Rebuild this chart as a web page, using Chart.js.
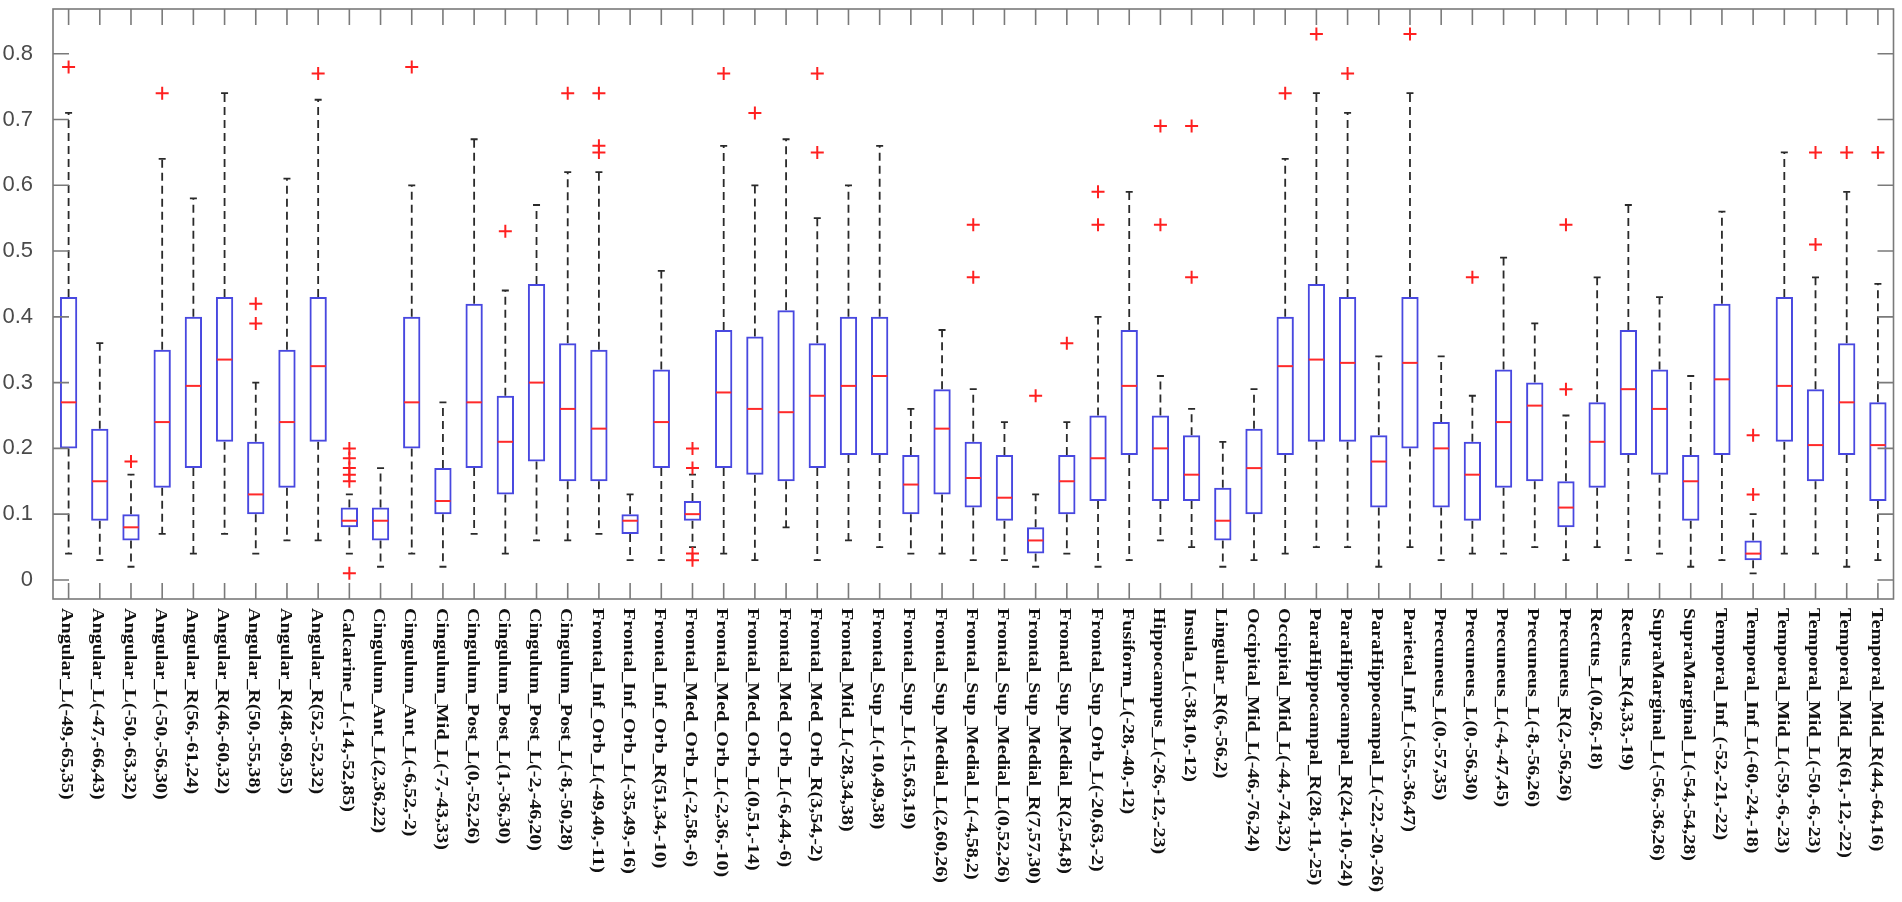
<!DOCTYPE html>
<html>
<head>
<meta charset="utf-8">
<script src="https://cdn.jsdelivr.net/npm/chart.js@4.4.1/dist/chart.umd.min.js"></script>
<style>
  html, body { margin: 0; padding: 0; background: #ffffff; }
  #wrap { width: 1902px; height: 902px; position: relative; }
</style>
</head>
<body>
<div id="wrap"><canvas id="c"></canvas></div>
<script>
const categories = [
  "Angular_L(-49,-65,35)", "Angular_L(-47,-66,43)", "Angular_L(-50,-63,32)", "Angular_L(-50,-56,30)",
  "Angular_R(56,-61,24)", "Angular_R(46,-60,32)", "Angular_R(50,-55,38)", "Angular_R(48,-69,35)",
  "Angular_R(52,-52,32)", "Calcarine_L(-14,-52,85)", "Cingulum_Ant_L(2,36,22)", "Cingulum_Ant_L(-6,52,-2)",
  "Cingulum_Mid_L(-7,-43,33)", "Cingulum_Post_L(0,-52,26)", "Cingulum_Post_L(1,-36,30)", "Cingulum_Post_L(-2,-46,20)",
  "Cingulum_Post_L(-8,-50,28)", "Frontal_Inf_Orb_L(-49,40,-11)", "Frontal_Inf_Orb_L(-35,49,-16)", "Frontal_Inf_Orb_R(51,34,-10)",
  "Frontal_Med_Orb_L(-2,58,-6)", "Frontal_Med_Orb_L(-2,36,-10)", "Frontal_Med_Orb_L(0,51,-14)", "Frontal_Med_Orb_L(-6,44,-6)",
  "Frontal_Med_Orb_R(3,54,-2)", "Frontal_Mid_L(-28,34,38)", "Frontal_Sup_L(-10,49,38)", "Frontal_Sup_L(-15,63,19)",
  "Frontal_Sup_Medial_L(2,60,26)", "Frontal_Sup_Medial_L(-4,58,2)", "Frontal_Sup_Medial_L(0,52,26)", "Frontal_Sup_Medial_R(7,57,30)",
  "Fronatl_Sup_Medial_R(2,54,8)", "Frontal_Sup_Orb_L(-20,63,-2)", "Fusiform_L(-28,-40,-12)", "Hippocampus_L(-26,-12,-23)",
  "Insula_L(-38,10,-12)", "Lingular_R(6,-56,2)", "Occipital_Mid_L(-46,-76,24)", "Occipital_Mid_L(-44,-74,32)",
  "ParaHippocampal_R(28,-11,-25)", "ParaHippocampal_R(24,-10,-24)", "ParaHippocampal_L(-22,-20,-26)", "Parietal_Inf_L(-55,-36,47)",
  "Precuneus_L(0,-57,35)", "Precuneus_L(0,-56,30)", "Precuneus_L(-4,-47,45)", "Precuneus_L(-8,-56,26)",
  "Precuneus_R(2,-56,26)", "Rectus_L(0,26,-18)", "Rectus_R(4,33,-19)", "SupraMarginal_L(-56,-36,26)",
  "SupraMarginal_L(-54,-54,28)", "Temporal_Inf_(-52,-21,-22)", "Temporal_Inf_L(-60,-24,-18)", "Temporal_Mid_L(-59,-6,-23)",
  "Temporal_Mid_L(-50,-6,-23)", "Temporal_Mid_R(61,-12,-22)", "Temporal_Mid_R(44,-64,16)"
];

const whiskerLow = [
  0.04, 0.03, 0.02, 0.07, 0.04, 0.07, 0.04, 0.06, 0.06,
  0.04, 0.02, 0.04, 0.02, 0.07, 0.04, 0.06, 0.06, 0.07, 0.03,
  0.03, 0.05, 0.04, 0.03, 0.08, 0.03, 0.06, 0.05, 0.04, 0.04,
  0.03, 0.03, 0.02, 0.04, 0.02, 0.03, 0.06, 0.05, 0.02, 0.03,
  0.04, 0.05, 0.05, 0.02, 0.05, 0.03, 0.04, 0.04, 0.05, 0.03,
  0.05, 0.03, 0.04, 0.02, 0.03, 0.01, 0.04, 0.04, 0.02, 0.03
];
const quartile1 = [
  0.20, 0.09, 0.06, 0.14, 0.17, 0.21, 0.10, 0.14, 0.21,
  0.08, 0.06, 0.20, 0.10, 0.17, 0.13, 0.18, 0.15, 0.15, 0.07,
  0.17, 0.09, 0.17, 0.16, 0.15, 0.17, 0.19, 0.19, 0.10, 0.13,
  0.11, 0.09, 0.04, 0.10, 0.12, 0.19, 0.12, 0.12, 0.06, 0.10,
  0.19, 0.21, 0.21, 0.11, 0.20, 0.11, 0.09, 0.14, 0.15, 0.08,
  0.14, 0.19, 0.16, 0.09, 0.19, 0.03, 0.21, 0.15, 0.19, 0.12
];
const medians = [
  0.27, 0.15, 0.08, 0.24, 0.295, 0.335, 0.13, 0.24, 0.325,
  0.09, 0.09, 0.27, 0.12, 0.27, 0.21, 0.30, 0.26, 0.23, 0.09,
  0.24, 0.10, 0.285, 0.26, 0.255, 0.28, 0.295, 0.31, 0.145, 0.23,
  0.155, 0.125, 0.06, 0.15, 0.185, 0.295, 0.20, 0.16, 0.09, 0.17,
  0.325, 0.335, 0.33, 0.18, 0.33, 0.20, 0.16, 0.24, 0.265, 0.11,
  0.21, 0.29, 0.26, 0.15, 0.305, 0.04, 0.295, 0.205, 0.27, 0.205
];
const quartile3 = [
  0.43, 0.23, 0.10, 0.35, 0.40, 0.43, 0.21, 0.35, 0.43,
  0.11, 0.11, 0.40, 0.17, 0.42, 0.28, 0.45, 0.36, 0.35, 0.10,
  0.32, 0.12, 0.38, 0.37, 0.41, 0.36, 0.40, 0.40, 0.19, 0.29,
  0.21, 0.19, 0.08, 0.19, 0.25, 0.38, 0.25, 0.22, 0.14, 0.23,
  0.40, 0.45, 0.43, 0.22, 0.43, 0.24, 0.21, 0.32, 0.30, 0.15,
  0.27, 0.38, 0.32, 0.19, 0.42, 0.06, 0.43, 0.29, 0.36, 0.27
];
const whiskerHigh = [
  0.71, 0.36, 0.16, 0.64, 0.58, 0.74, 0.30, 0.61, 0.73,
  0.13, 0.17, 0.60, 0.27, 0.67, 0.44, 0.57, 0.62, 0.62, 0.13,
  0.47, 0.16, 0.66, 0.60, 0.67, 0.55, 0.60, 0.66, 0.26, 0.38,
  0.29, 0.24, 0.13, 0.24, 0.40, 0.59, 0.31, 0.26, 0.21, 0.29,
  0.64, 0.74, 0.71, 0.34, 0.74, 0.34, 0.28, 0.49, 0.39, 0.25,
  0.46, 0.57, 0.43, 0.31, 0.56, 0.10, 0.65, 0.46, 0.59, 0.45
];
const outliers = [
  [0.78], [], [0.18], [0.74], [], [], [0.42, 0.39], [], [0.77],
  [0.20, 0.185, 0.17, 0.16, 0.15, 0.01], [], [0.78], [], [], [0.53], [], [0.74], [0.74, 0.66, 0.65], [],
  [], [0.20, 0.17, 0.04, 0.03], [0.77], [0.71], [], [0.77, 0.65], [], [], [], [],
  [0.54, 0.46], [], [0.28], [0.36], [0.59, 0.54], [], [0.69, 0.54], [0.69, 0.46], [], [],
  [0.74], [0.83], [0.77], [], [0.83], [], [0.46], [], [], [0.54, 0.29],
  [], [], [], [], [], [0.22, 0.13], [], [0.65, 0.51], [0.65], [0.65]
];
const yTickValues = [0, 0.1, 0.2, 0.3, 0.4, 0.5, 0.6, 0.7, 0.8];
const yTickLabels = ["0", "0.1", "0.2", "0.3", "0.4", "0.5", "0.6", "0.7", "0.8"];

const outlierPoints = [];
outliers.forEach((list, i) => list.forEach(v => outlierPoints.push({ x: categories[i], y: v })));

const boxPlugin = {
  id: 'boxParts',
  beforeDatasetsDraw(chart) {
    const ctx = chart.ctx, xs = chart.scales.x, ys = chart.scales.y;
    ctx.save();
    ctx.strokeStyle = '#2a2a2a';
    ctx.lineWidth = 1.8;
    for (let i = 0; i < categories.length; i++) {
      const x = xs.getPixelForValue(i);
      ctx.setLineDash([8, 5]);
      ctx.beginPath();
      ctx.moveTo(x, ys.getPixelForValue(quartile3[i]));
      ctx.lineTo(x, ys.getPixelForValue(whiskerHigh[i]));
      ctx.moveTo(x, ys.getPixelForValue(quartile1[i]));
      ctx.lineTo(x, ys.getPixelForValue(whiskerLow[i]));
      ctx.stroke();
      ctx.setLineDash([]);
      ctx.beginPath();
      const yh = ys.getPixelForValue(whiskerHigh[i]);
      const yl = ys.getPixelForValue(whiskerLow[i]);
      ctx.moveTo(x - 3.5, yh); ctx.lineTo(x + 3.5, yh);
      ctx.moveTo(x - 3.5, yl); ctx.lineTo(x + 3.5, yl);
      ctx.stroke();
    }
    ctx.restore();
  },
  afterDatasetsDraw(chart) {
    const ctx = chart.ctx, xs = chart.scales.x, ys = chart.scales.y;
    const meta = chart.getDatasetMeta(0);
    ctx.save();
    ctx.strokeStyle = '#ff2a2a';
    ctx.lineWidth = 2;
    for (let i = 0; i < categories.length; i++) {
      const x = xs.getPixelForValue(i);
      const w = meta.data[i].width / 2 - 1;
      const y = ys.getPixelForValue(medians[i]);
      ctx.beginPath();
      ctx.moveTo(x - w, y); ctx.lineTo(x + w, y);
      ctx.stroke();
    }
    ctx.restore();
  },
  afterDraw(chart) {
    const ctx = chart.ctx, xs = chart.scales.x, ys = chart.scales.y;
    const a = chart.chartArea;
    ctx.save();
    ctx.strokeStyle = '#7a7a7a';
    ctx.lineWidth = 1.6;
    ctx.strokeRect(a.left, a.top, a.right - a.left, a.bottom - a.top);
    const tl = 16;
    ctx.beginPath();
    for (let i = 0; i < categories.length; i++) {
      const x = xs.getPixelForValue(i);
      ctx.moveTo(x, a.top); ctx.lineTo(x, a.top + tl);
      ctx.moveTo(x, a.bottom); ctx.lineTo(x, a.bottom - tl);
    }
    yTickValues.forEach(v => {
      const y = ys.getPixelForValue(v);
      ctx.moveTo(a.left, y); ctx.lineTo(a.left + tl, y);
      ctx.moveTo(a.right, y); ctx.lineTo(a.right - tl, y);
    });
    ctx.stroke();
    // category labels, rotated clockwise
    ctx.fillStyle = '#111111';
    ctx.font = 'bold 17px "Liberation Serif", "Times New Roman", serif';
    ctx.textAlign = 'left';
    ctx.textBaseline = 'middle';
    for (let i = 0; i < categories.length; i++) {
      const x = xs.getPixelForValue(i) - 2;
      ctx.save();
      ctx.translate(x, a.bottom + 9);
      ctx.rotate(Math.PI / 2);
      ctx.scale(1.18, 1);
      ctx.fillText(categories[i], 0, 0);
      ctx.restore();
    }
    ctx.restore();
  }
};

new Chart(document.getElementById('c'), {
  data: {
    labels: categories,
    datasets: [
      {
        type: 'bar',
        data: categories.map((_, i) => [quartile1[i], quartile3[i]]),
        backgroundColor: 'rgba(0,0,0,0)',
        borderColor: '#4848e0',
        borderWidth: 2,
        borderSkipped: false,
        barPercentage: 0.555,
        categoryPercentage: 1.0
      },
      {
        type: 'line',
        data: outlierPoints,
        showLine: false,
        pointStyle: 'cross',
        pointRadius: 6.5,
        pointBorderWidth: 2,
        borderColor: '#ff2020',
        pointBorderColor: '#ff2020',
        backgroundColor: '#ff2020'
      }
    ]
  },
  options: {
    responsive: true,
    maintainAspectRatio: false,
    animation: false,
    devicePixelRatio: 1,
    layout: { padding: { left: 0, top: 9, right: 7, bottom: 0 } },
    plugins: { legend: { display: false }, tooltip: { enabled: false } },
    scales: {
      x: {
        type: 'category',
        offset: true,
        grid: { display: false },
        border: { display: false },
        ticks: { display: false },
        afterFit(scale) { scale.height = 303; scale.paddingLeft = 0; scale.paddingRight = 0; }
      },
      y: {
        type: 'linear',
        min: -0.029,
        max: 0.868,
        grid: { display: false },
        border: { display: false },
        afterBuildTicks(scale) { scale.ticks = yTickValues.map(v => ({ value: v })); },
        ticks: {
          padding: 12,
          color: '#4a4a4a',
          font: { family: '"Liberation Sans", Arial, sans-serif', size: 22 },
          callback: (v, idx) => yTickLabels[idx]
        },
        afterFit(scale) { scale.width = 53; scale.paddingTop = 0; scale.paddingBottom = 0; }
      }
    }
  },
  plugins: [boxPlugin]
});
</script>
</body>
</html>
